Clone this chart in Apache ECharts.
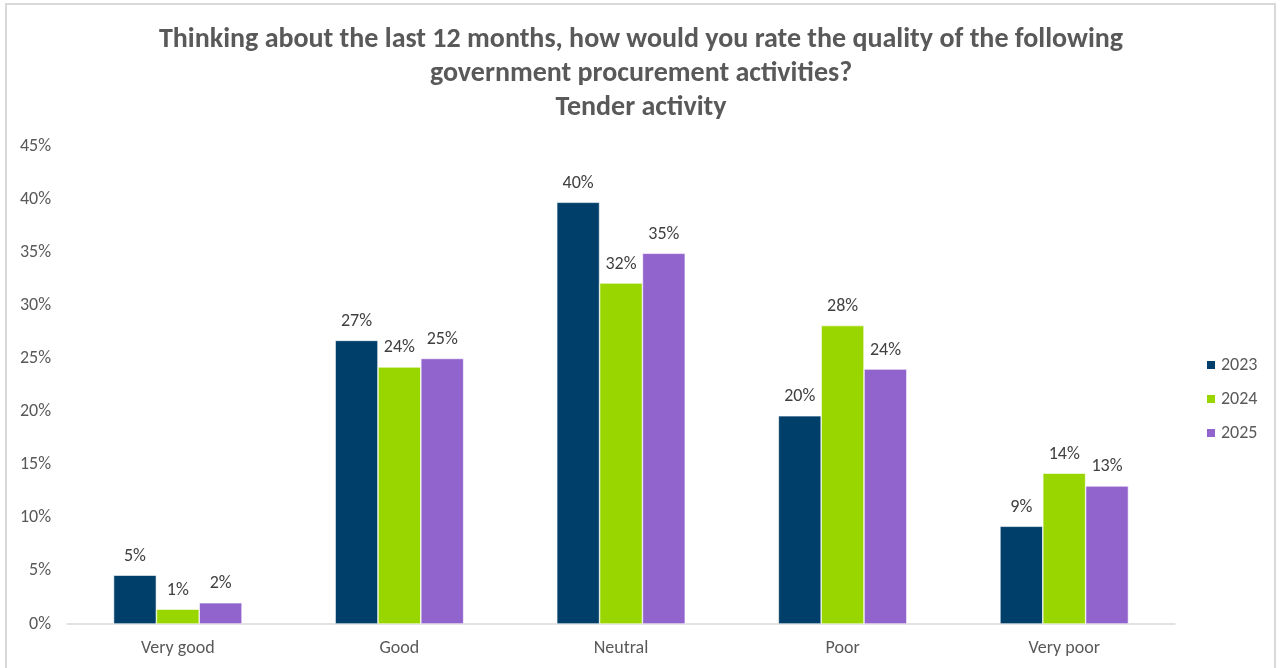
<!DOCTYPE html>
<html>
<head>
<meta charset="utf-8">
<script src="https://cdn.jsdelivr.net/npm/echarts@6/dist/echarts.min.js"></script>
<style>
  html, body { margin: 0; padding: 0; background: #ffffff; overflow: hidden; }
  #frame { position: absolute; left: 5px; top: 3px; width: 1271px; height: 700px;
           border: 2px solid #d9d9d9; box-sizing: border-box; }
  #chart { position: absolute; left: 0; top: 0; width: 1282px; height: 668px; }
</style>
</head>
<body>
<div id="frame"></div>
<div id="chart"></div>
<script>
// Survey ratings of tender activity by year (share of respondents, %)
const categories = ['Very good', 'Good', 'Neutral', 'Poor', 'Very poor'];
const years = ['2023', '2024', '2025'];
const values2023 = [4.6, 26.7, 39.7, 19.6, 9.2];
const values2024 = [1.4, 24.2, 32.1, 28.1, 14.2];
const values2025 = [2.0, 25.0, 34.9, 24.0, 13.0];
const yTicks = [0, 5, 10, 15, 20, 25, 30, 35, 40, 45];
const colors = ['#003f69', '#99d600', '#9163cc'];

const titleText = 'Thinking about the last 12 months, how would you rate the quality of the following\n' +
  'government procurement activities?\nTender activity';

const chart = echarts.init(document.getElementById('chart'), null, { renderer: 'canvas' });

const seriesData = [values2023, values2024, values2025];
const font = 'Calibri, Carlito, Lato, "Open Sans", "Liberation Sans", sans-serif';

chart.setOption({
  backgroundColor: 'transparent',
  animation: false,
  textStyle: { fontFamily: font },
  title: {
    text: titleText,
    left: 'center',
    top: 18,
    textStyle: {
      fontFamily: font,
      fontSize: 28,
      fontWeight: 'bold',
      color: '#595959',
      lineHeight: 34
    }
  },
  legend: {
    orient: 'vertical',
    left: 1200,
    top: 350,
    itemWidth: 10,
    itemHeight: 10,
    itemGap: 14,
    icon: 'rect',
    data: years,
    textStyle: { fontFamily: font, fontSize: 18, color: '#595959', lineHeight: 20 }
  },
  grid: { left: 67, right: 107, top: 146, bottom: 44, containLabel: false },
  xAxis: {
    type: 'category',
    data: categories,
    axisTick: { show: false },
    axisLine: { lineStyle: { color: '#d9d9d9', width: 1.5 } },
    axisLabel: { fontFamily: font, fontSize: 18, color: '#595959', margin: 15 }
  },
  yAxis: {
    type: 'value',
    min: yTicks[0],
    max: yTicks[yTicks.length - 1],
    interval: 5,
    splitLine: { show: false },
    axisLine: { show: false },
    axisTick: { show: false },
    axisLabel: {
      fontFamily: font, fontSize: 18, color: '#595959', margin: 16,
      formatter: v => v + '%'
    }
  },
  series: years.map((y, i) => ({
    name: y,
    type: 'bar',
    data: seriesData[i],
    barGap: '0%',
    barCategoryGap: '42%',
    itemStyle: { color: colors[i], borderColor: '#ffffff', borderWidth: 0.6 },
    label: {
      show: true,
      position: 'top',
      distance: 10,
      fontFamily: font,
      fontSize: 18,
      color: '#404040',
      formatter: p => Math.round(p.value) + '%'
    }
  }))
});
</script>
</body>
</html>
